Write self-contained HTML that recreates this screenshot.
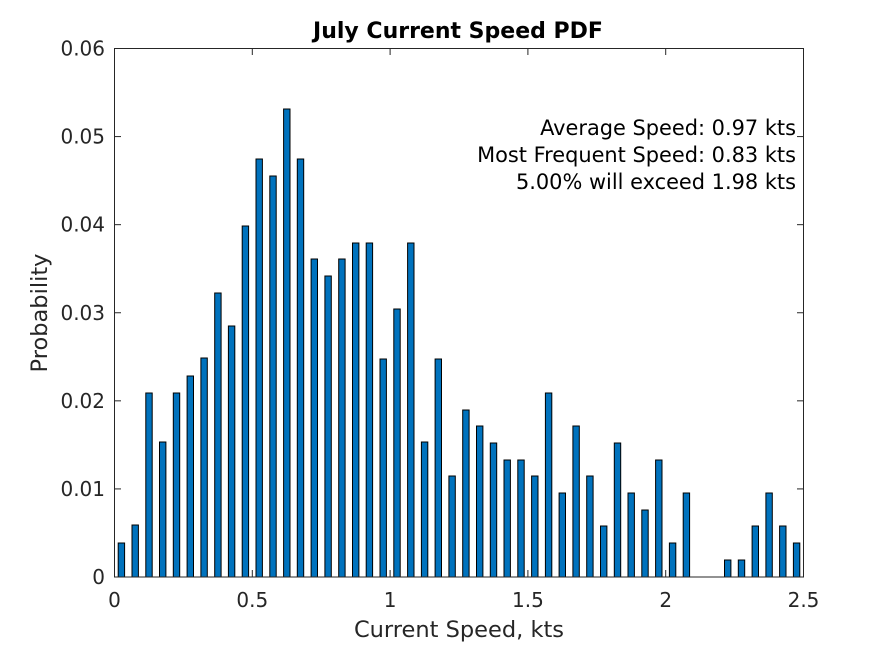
<!DOCTYPE html>
<html><head><meta charset="utf-8"><style>
html,body{margin:0;padding:0;background:#fff;}
svg{display:block;font-family:"DejaVu Sans","Liberation Sans",sans-serif;}
</style></head><body>
<svg width="887" height="648" viewBox="0 0 887 648" xmlns="http://www.w3.org/2000/svg">
<rect width="887" height="648" fill="#fff"/>
<g id="bars" fill="#0072bd" stroke="#000" stroke-width="1"></g>
<g stroke="#262626" stroke-width="1" fill="none">
<rect x="114.5" y="48.5" width="689" height="528.5"/>
</g>
<g id="ticks" stroke="#262626" stroke-width="1"></g>
<g fill="#262626" font-size="20" text-anchor="end" id="ylab"></g>
<g fill="#262626" font-size="20" text-anchor="middle" id="xlab"></g>
<text x="458" y="38" font-size="22" font-weight="bold" text-anchor="middle" fill="#000">July Current Speed PDF</text>
<text x="459" y="637" font-size="22.5" text-anchor="middle" fill="#262626">Current Speed, kts</text>
<text transform="translate(47,313) rotate(-90)" font-size="22.5" text-anchor="middle" fill="#262626">Probability</text>
<g font-size="20.9" text-anchor="end" fill="#000">
<text x="796" y="135">Average Speed: 0.97 kts</text>
<text x="796" y="162">Most Frequent Speed: 0.83 kts</text>
<text x="796" y="189">5.00% will exceed 1.98 kts</text>
</g>
<script>
var tops=[543,525,393,442,393,376,358,293,326,226,159,176,109,159,259,276,259,243,243,359,309,243,442,359,476,410,426,443,460,460,476,393,493,426,476,526,443,493,510,460,543,493,577,577,560,560,526,493,526,543];
var ns="http://www.w3.org/2000/svg",g=document.getElementById('bars');
var x0=114.5,sx=689/2.5,y0=577;
tops.forEach(function(t,i){var c=x0+(0.025+0.05*i)*sx;var r=document.createElementNS(ns,'rect');
r.setAttribute('x',(c-3.2).toFixed(1));r.setAttribute('y',t);r.setAttribute('width',6.4);r.setAttribute('height',Math.max(0,y0-t));g.appendChild(r);});
var tk=document.getElementById('ticks'),yl=document.getElementById('ylab'),xl=document.getElementById('xlab');
function ln(a,b,c,d){var l=document.createElementNS(ns,'line');l.setAttribute('x1',a);l.setAttribute('y1',b);l.setAttribute('x2',c);l.setAttribute('y2',d);tk.appendChild(l);}
function tx(p,x,y,s){var t=document.createElementNS(ns,'text');t.setAttribute('x',x);t.setAttribute('y',y);t.textContent=s;p.appendChild(t);}
for(var k=0;k<=6;k++){var y=577-k*(528.5/6);ln(114.5,y,121,y);ln(803.5,y,797,y);tx(yl,105,y+7,k==0?'0':(k/100).toFixed(2));}
for(var k=0;k<=5;k++){var x=x0+k*0.5*sx;ln(x,577,x,570);ln(x,48.5,x,55);tx(xl,x,607,k==0?'0':(k%2==0?String(k/2):(k/2).toFixed(1)));}
</script>
</svg>
</body></html>
